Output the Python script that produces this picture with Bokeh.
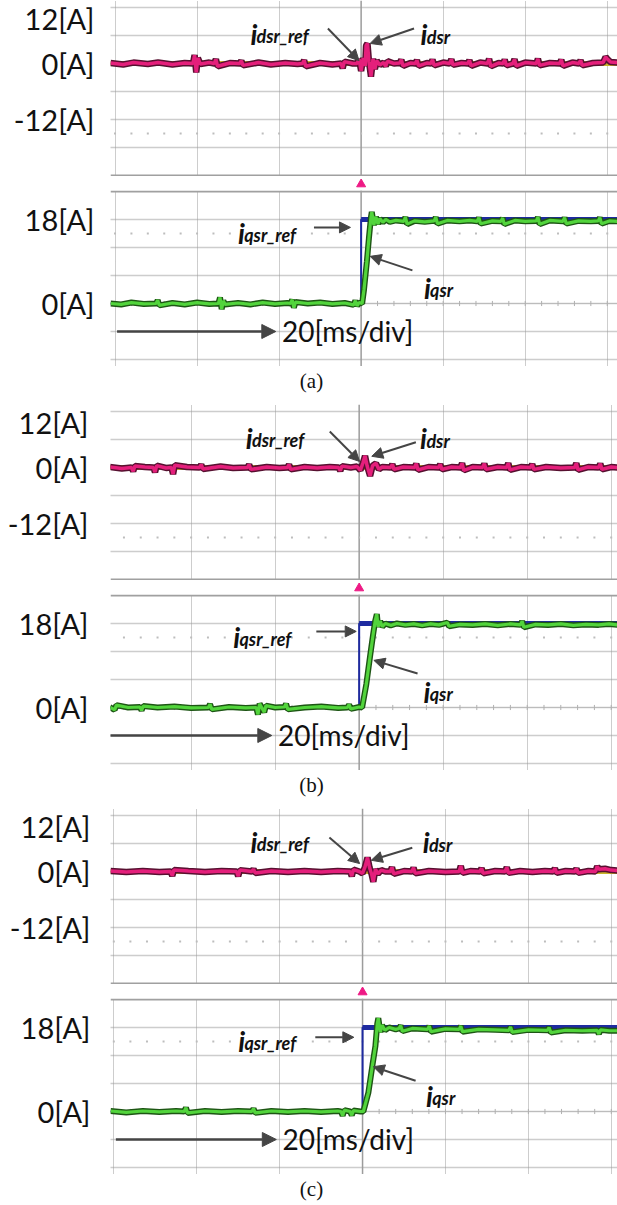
import numpy as np
from bokeh.plotting import figure
from bokeh.models import (FixedTicker, Span, Arrow, NormalHead, Div, Column,
                          Range1d, LinearAxis, Grid)
from bokeh.core.properties import value
from bokeh.embed import file_html
from bokeh.resources import INLINE

# ---------------- values ----------------
panel_names = ["(a)", "(b)", "(c)"]
top_tick_vals = [12, 0, -12]
top_tick_text = ["12[A]", "0[A]", "-12[A]"]
bot_tick_vals = [18, 0]
bot_tick_text = ["18[A]", "0[A]"]
time_label = "20[ms/div]"
trigger_t = 0.0          # ms
iqsr_ref_level = 18.0    # A
idsr_ref_level = 0.0     # A
time_grid = [-60, -40, -20, 20, 40, 60]          # ms, 20 ms/div
top_amp_grid = [-18, -12, -6, 0, 6, 12]          # A, 6 A/div
bot_amp_grid = [-12, -6, 0, 6, 12, 18]
top_border, bot_border = -24, 24
top_dots, bot_dots = -15, 15
sub_ticks = list(range(-60, 62, 4))              # 1/5 div marks

# (time ms, current A) vertices
dsr_a = [(-61.1, 0.1), (-58.0, -0.2), (-55.5, 0.2), (-52.0, -0.1), (-49.5, 0.2), (-46.0, -0.2),
         (-43.0, 0.1), (-41.0, 0.0), (-40.6, 1.8), (-40.2, -1.9), (-39.8, 1.2), (-39.2, -0.1),
         (-37.0, 0.2), (-35.8, 0.0), (-35.4, 0.9), (-35.0, -0.6), (-32.0, 0.1), (-29.6, 0.0),
         (-29.2, 0.6), (-28.8, -0.4), (-25.0, 0.2), (-22.0, -0.2), (-18.5, 0.1), (-15.5, -0.1),
         (-14.3, 0.0), (-13.9, 0.7), (-13.5, -0.6), (-10.0, 0.1), (-7.0, -0.2), (-4.9, 0.0),
         (-4.5, -1.0), (-4.1, 0.4), (-2.0, 0.0), (-1.0, 0.0), (-0.5, 0.9), (0.0, -1.6), (0.5, 1.2),
         (1.0, -0.5), (1.2, 3.8), (1.55, 4.3), (1.9, 0.5), (2.4, -2.8), (2.9, 1.0), (3.35, -1.2),
         (3.8, 0.6), (4.55, -0.3), (5.5, 0.2), (6.0, -0.6), (6.4, 0.5), (8.0, 0.0), (9.4, 0.1),
         (9.8, 0.8), (10.2, -0.5), (12.0, 0.1), (13.2, 0.0), (13.6, 0.7), (14.0, -0.5), (16.0, 0.1),
         (17.0, 0.0), (17.4, 0.8), (17.8, -0.4), (20.0, 0.2), (21.6, 0.0), (22.0, 0.9), (22.4, -0.3),
         (24.5, 0.1), (26.0, 0.0), (26.4, 0.7), (26.8, -0.5), (29.0, 0.2), (30.8, 0.0), (31.2, 1.0),
         (31.6, -0.6), (33.5, 0.1), (34.6, 0.0), (35.0, 0.8), (35.4, -0.4), (37.0, 0.0), (37.4, 0.9),
         (37.8, -0.5), (40.0, 0.2), (42.7, 0.0), (43.1, 1.0), (43.5, -0.4), (46.0, 0.1), (48.4, 0.0),
         (48.8, 0.8), (49.2, -0.5), (51.5, 0.2), (53.1, 0.0), (53.5, 0.7), (53.9, -0.4), (56.5, 0.1),
         (59.0, 0.2), (59.6, 1.4), (60.1, 0.9), (60.8, 0.3), (62.6, 0.2)]
qsr_a = [(-61.1, 0.0), (-58.5, -0.2), (-56.0, 0.2), (-53.0, -0.1), (-50.0, 0.0), (-49.6, 0.7),
         (-49.2, -0.4), (-46.0, 0.1), (-43.0, -0.2), (-40.0, 0.2), (-37.0, -0.1), (-34.8, 0.0),
         (-34.4, 1.3), (-34.0, -1.2), (-33.6, 0.6), (-33.2, -0.2), (-30.0, 0.1), (-27.0, -0.2),
         (-24.0, 0.2), (-21.0, -0.1), (-18.0, 0.1), (-17.2, 0.0), (-16.8, 0.8), (-16.4, -0.9),
         (-16.0, 0.3), (-13.0, 0.0), (-10.0, 0.2), (-7.0, -0.1), (-4.0, 0.1), (-1.8, -0.3),
         (-1.4, 0.6), (-1.0, -0.5), (-0.5, 0.2), (0.25, 0.0), (0.7, 3.0), (1.4, 9.0), (1.9, 14.0),
         (2.4, 18.5), (2.6, 19.6), (3.1, 16.8), (3.6, 18.6), (4.1, 17.0), (4.55, 18.2), (5.3, 17.4),
         (6.0, 18.0), (7.0, 17.5), (8.5, 17.8), (10.4, 17.6), (10.8, 18.5), (11.2, 17.0), (13.0, 17.7),
         (15.5, 17.5), (17.8, 17.7), (18.2, 18.5), (18.6, 17.1), (21.0, 17.8), (24.0, 17.6),
         (26.5, 17.8), (28.3, 17.6), (28.7, 18.4), (29.1, 17.1), (32.0, 17.7), (34.1, 17.6),
         (34.5, 18.3), (34.9, 17.0), (37.5, 17.8), (40.0, 17.6), (42.7, 17.7), (43.1, 18.5),
         (43.5, 17.0), (46.0, 17.8), (49.2, 17.6), (49.6, 18.4), (50.0, 17.1), (53.0, 17.7),
         (56.0, 17.6), (57.8, 17.7), (58.2, 18.4), (58.6, 17.1), (60.5, 17.7), (62.6, 17.6)]
dsr_b = [(-59.4, 0.1), (-56.5, -0.2), (-54.2, 0.0), (-53.8, -0.8), (-53.4, 0.3), (-51.0, 0.1),
         (-49.0, 0.0), (-48.6, -1.0), (-48.2, 0.4), (-46.0, -0.1), (-44.7, 0.0), (-44.3, -1.4),
         (-43.9, 0.5), (-41.0, 0.1), (-38.0, 0.0), (-37.6, 0.6), (-37.2, -0.3), (-33.0, 0.2),
         (-30.0, -0.1), (-26.6, 0.0), (-26.2, 0.6), (-25.8, -0.4), (-22.0, 0.1), (-19.0, -0.1),
         (-17.1, 0.0), (-16.7, 0.6), (-16.3, -0.4), (-13.0, 0.1), (-10.0, -0.1), (-7.0, 0.1),
         (-4.9, 0.0), (-4.5, -0.7), (-4.1, 0.3), (-2.0, 0.0), (-0.5, 0.2), (0.3, -0.6), (0.9, 1.0),
         (1.4, 2.5), (1.9, 0.3), (2.6, -1.8), (3.2, 0.4), (4.0, 0.9), (4.7, -0.4), (5.5, 0.1),
         (7.5, 0.0), (7.9, 0.7), (8.3, -0.4), (10.5, 0.1), (13.2, 0.0), (13.6, 0.8), (14.0, -0.5),
         (16.5, 0.1), (18.9, 0.0), (19.3, 0.7), (19.7, -0.4), (22.0, 0.1), (24.1, 0.0), (24.5, 0.9),
         (24.9, -0.6), (27.0, 0.1), (29.4, 0.0), (29.8, 0.8), (30.2, -0.4), (33.0, 0.1), (35.1, 0.0),
         (35.5, 0.9), (35.9, -0.5), (38.5, 0.1), (40.8, 0.0), (41.2, 0.7), (41.6, -0.4), (44.5, 0.1),
         (48.0, -0.1), (51.3, 0.0), (51.7, 0.9), (52.1, -0.5), (54.5, 0.1), (57.0, 0.0), (57.4, 0.8),
         (57.8, -0.4), (60.0, 0.1), (61.6, 0.0)]
qsr_b = [(-59.4, 0.1), (-58.2, -0.5), (-57.8, 0.5), (-55.0, 0.0), (-52.2, 0.1), (-51.8, -0.6),
         (-51.4, 0.3), (-48.0, 0.0), (-44.0, 0.2), (-40.0, -0.1), (-35.9, 0.0), (-35.5, 0.7),
         (-35.1, -0.4), (-31.0, 0.1), (-27.0, -0.1), (-24.5, 0.0), (-24.1, -1.5), (-23.7, 0.8),
         (-22.6, -1.0), (-22.2, 0.4), (-20.0, 0.0), (-17.8, 0.1), (-17.4, 0.8), (-17.0, -0.4),
         (-13.0, 0.0), (-9.0, 0.2), (-5.0, -0.1), (-2.8, 0.0), (-2.4, 0.6), (-2.0, -0.3), (0.0, 0.1),
         (0.7, 0.0), (1.7, 5.0), (2.6, 11.0), (3.3, 15.5), (3.8, 18.5), (4.2, 20.0), (4.5, 17.3),
         (5.0, 18.5), (5.5, 17.3), (6.2, 18.0), (7.5, 17.6), (9.0, 18.0), (11.0, 17.7), (13.0, 17.9),
         (15.0, 17.6), (17.0, 17.9), (19.0, 17.7), (21.0, 18.2), (21.4, 17.4), (24.0, 17.8),
         (27.0, 17.7), (30.0, 17.9), (33.0, 17.6), (36.0, 17.9), (38.4, 17.7), (38.8, 18.5),
         (39.2, 17.2), (42.0, 17.8), (45.0, 17.7), (48.0, 17.9), (51.0, 17.6), (54.0, 17.8),
         (57.0, 17.7), (59.5, 17.9), (61.6, 17.7)]
dsr_c = [(-60.8, 0.1), (-57.0, -0.1), (-53.0, 0.1), (-49.0, -0.1), (-46.3, 0.0), (-45.9, -0.9),
         (-45.5, 0.3), (-42.0, 0.1), (-38.0, -0.1), (-34.0, 0.1), (-30.4, 0.0), (-30.0, -1.0),
         (-29.6, 0.3), (-26.7, 0.0), (-26.3, 0.5), (-25.9, -0.3), (-22.0, 0.1), (-18.0, -0.1),
         (-14.0, 0.1), (-10.0, -0.1), (-6.0, 0.1), (-3.0, 0.0), (-2.6, -1.0), (-2.2, 0.4),
         (-0.8, 0.0), (0.0, -0.4), (0.6, 1.0), (1.2, 3.0), (1.7, 0.8), (2.2, -0.6), (2.6, -2.2),
         (3.1, 0.5), (3.7, -0.5), (4.5, 0.3), (5.5, 0.0), (6.7, 0.0), (7.1, 0.9), (7.5, -0.5),
         (10.0, 0.1), (11.9, 0.0), (12.3, 0.8), (12.7, -0.4), (16.0, 0.1), (20.0, -0.1), (23.3, 0.0),
         (23.7, 1.2), (24.1, -0.3), (26.0, 0.1), (28.3, 0.0), (28.7, 0.7), (29.1, -0.4), (32.0, 0.1),
         (34.4, 0.0), (34.8, 0.9), (35.2, -0.3), (38.0, 0.1), (41.0, -0.1), (44.0, 0.1), (46.0, 0.0),
         (46.4, 0.7), (46.8, -0.3), (49.0, 0.1), (51.2, 0.0), (51.6, 0.6), (52.0, -0.3), (54.5, 0.1),
         (56.2, 0.0), (56.6, 1.1), (57.0, 0.5), (58.5, 0.6), (60.0, 0.3), (61.6, 0.2)]
qsr_c = [(-60.8, 0.1), (-57.0, -0.2), (-53.0, 0.1), (-49.0, -0.1), (-45.0, 0.1), (-43.0, 0.0),
         (-42.6, 0.8), (-42.2, -0.3), (-38.0, 0.1), (-34.0, -0.1), (-30.0, 0.1), (-26.7, 0.0),
         (-26.3, 0.6), (-25.9, -0.3), (-22.0, 0.1), (-18.0, -0.1), (-14.0, 0.1), (-10.0, -0.1),
         (-6.0, 0.1), (-5.2, 0.0), (-4.8, -0.9), (-4.4, 0.3), (-3.0, 0.0), (-2.6, -0.8), (-2.2, 0.2),
         (-0.5, 0.0), (0.2, 0.0), (1.4, 4.0), (2.4, 10.0), (3.1, 14.0), (3.55, 18.8), (3.8, 20.0),
         (4.3, 17.0), (4.7, 18.5), (5.4, 17.4), (6.4, 18.0), (8.0, 17.6), (8.8, 17.8), (9.2, 18.4),
         (9.6, 17.2), (12.0, 17.8), (15.7, 17.6), (16.1, 18.3), (16.5, 17.1), (20.0, 17.7),
         (23.3, 17.6), (23.7, 18.3), (24.1, 17.1), (28.0, 17.6), (32.0, 17.5), (35.3, 17.4),
         (35.7, 18.1), (36.1, 17.0), (40.0, 17.5), (44.6, 17.4), (45.0, 18.0), (45.4, 16.9),
         (49.0, 17.4), (53.0, 17.3), (56.6, 17.4), (57.0, 16.6), (57.4, 17.5), (59.5, 17.3),
         (61.6, 17.3)]

dsr_traces = [dsr_a, dsr_b, dsr_c]
qsr_traces = [qsr_a, qsr_b, qsr_c]

# ---------------- layout / style ----------------
W = 617
TOP_H, STRIP_H, BOT_H = 176, 14, 176
CAP_H = [38, 38, 31]
lefts = [101, 110, 100]
x_ranges = [(-61.1, 62.5), (-59.2, 61.5), (-60.8, 61.5)]
standoffs = [16, 22, 20]
top_yr = (-24.21, 13.5)
bot_yr = (-13.5, 24.21)

arrows = [
    dict(r=(-8.1, 7.5, -0.5, 0.6), d=(12.9, 7.5, 2.2, 4.3), qr=(-11.5, 16.3, -2.6, 16.3), q=(12.5, 7.1, 2.2, 10.1)),
    dict(r=(-7.0, 7.7, 0.1, 1.3), d=(13.5, 5.4, 3.0, 2.4), qr=(-10.2, 16.3, -0.7, 16.3), q=(13.9, 7.3, 3.5, 10.1)),
    dict(r=(-8.0, 7.3, -0.7, 1.7), d=(12.0, 5.1, 2.1, 2.4), qr=(-11.4, 15.9, -2.1, 15.9), q=(12.8, 6.6, 2.6, 9.6)),
]

PINK, PINK_DK = "#e41f7b", "#571030"
GREEN, GREEN_DK = "#52d43c", "#1d5514"
NAVY = "#1e2aa0"
OLIVE = "#c8b42a"
GRID = "#9a9a9a"
ARROW = "#454545"
FONT = "Lato"


def base_fig(height, xr, yr, left):
    p = figure(width=W, height=height, x_range=Range1d(*xr), y_range=Range1d(*yr),
               x_axis_type=None, y_axis_type=None, output_backend="svg",
               toolbar_location=None, min_border_left=left, min_border_right=0,
               min_border_top=0, min_border_bottom=0)
    p.outline_line_color = None
    p.background_fill_color = "white"
    p.border_fill_color = "white"
    return p


def graticule(p, amp_grid, border, dots, tick_vals, tick_text, standoff):
    p.add_layout(Grid(dimension=0, ticker=FixedTicker(ticks=time_grid),
                      grid_line_color=GRID, grid_line_dash="1 1", grid_line_width=1))
    p.add_layout(Grid(dimension=1, ticker=FixedTicker(ticks=amp_grid),
                      grid_line_color=GRID, grid_line_dash="1 1", grid_line_width=1.3))
    p.add_layout(Span(location=trigger_t, dimension="height", line_color="#9c9c9c",
                      line_width=1.5, level="underlay"))
    p.add_layout(Span(location=border, dimension="width", line_color="#a0a0a0",
                      line_width=2, level="underlay"))
    p.add_layout(Span(location=0, dimension="width", line_color="#bcbcbc",
                      line_width=1, level="underlay"))
    p.segment(x0=sub_ticks, y0=[-0.55] * len(sub_ticks), x1=sub_ticks, y1=[0.55] * len(sub_ticks),
              line_color="#b0b0b0", line_width=1)
    p.scatter(x=sub_ticks, y=[dots] * len(sub_ticks), marker="square", size=2,
              fill_color="#bdbdbd", line_color=None)
    ax = LinearAxis(ticker=FixedTicker(ticks=tick_vals),
                    major_label_overrides=dict(zip(tick_vals, tick_text)),
                    axis_line_color=None, major_tick_line_color=None,
                    minor_tick_line_color=None, major_tick_in=0, major_tick_out=0,
                    major_label_standoff=standoff, major_label_text_font=FONT,
                    major_label_text_font_size="29px", major_label_text_color="#111111")
    p.add_layout(ax, "left")


def add_arrow(p, xy, size=11, width=2):
    p.add_layout(Arrow(end=NormalHead(size=size, fill_color=ARROW, line_color=ARROW, line_width=1),
                       x_start=xy[0], y_start=xy[1], x_end=xy[2], y_end=xy[3],
                       line_color=ARROW, line_width=width))


def add_name(p, x, y, sub, dx=1.5, dy=0.5):
    p.text(x=[x], y=[y], text=["i"], text_font=value(FONT), text_font_style="bold italic",
           text_font_size="28px", text_color="#111111", text_baseline="alphabetic", text_align="left")
    p.text(x=[x + dx], y=[y - dy], text=[sub], text_font=value(FONT), text_font_style="bold italic",
           text_font_size="18px", text_color="#111111", text_baseline="alphabetic", text_align="left")


children = []
for k in range(3):
    xr, left = x_ranges[k], lefts[k]
    # ---- d-axis current ----
    pt = base_fig(TOP_H, xr, top_yr, left)
    graticule(pt, top_amp_grid, top_border, top_dots, top_tick_vals, top_tick_text, standoffs[k])
    td, vd = map(list, zip(*dsr_traces[k]))
    pt.line([td[0], td[-1]], [idsr_ref_level, idsr_ref_level], line_color=OLIVE, line_width=5)
    pt.line(td, vd, line_color=PINK_DK, line_width=6.5)
    pt.line(td, vd, line_color=PINK, line_width=3.5)
    add_name(pt, -27.0, 6.4, "dsr_ref")
    add_name(pt, 14.5, 6.4, "dsr", dy=0.7)
    add_arrow(pt, arrows[k]["r"])
    add_arrow(pt, arrows[k]["d"])

    # ---- trigger strip ----
    ps = base_fig(STRIP_H, xr, (0, 1), left)
    ps.scatter(x=[trigger_t], y=[0.45], marker="triangle", size=9, fill_color="#ee1a85",
               line_color="#ee1a85")

    # ---- q-axis current ----
    pb = base_fig(BOT_H, xr, bot_yr, left)
    graticule(pb, bot_amp_grid, bot_border, bot_dots, bot_tick_vals, bot_tick_text, standoffs[k])
    tq, vq = map(list, zip(*qsr_traces[k]))
    ref_t = [tq[0], trigger_t, trigger_t, tq[-1]]
    ref_v = [0.0, 0.0, iqsr_ref_level, iqsr_ref_level]
    pb.line(ref_t, ref_v, line_color=NAVY, line_width=2)
    pb.line(ref_t[2:], ref_v[2:], line_color=NAVY, line_width=5)
    pb.line(tq, vq, line_color=GREEN_DK, line_width=6)
    pb.line(tq, vq, line_color=GREEN, line_width=3.2)
    add_name(pb, -30.0, 15.2, "qsr_ref")
    add_name(pb, 15.3, 3.4, "qsr")
    add_arrow(pb, arrows[k]["qr"])
    add_arrow(pb, arrows[k]["q"])
    add_arrow(pb, (-59.5, -6, -20.8, -6), size=14, width=2.5)
    pb.text(x=[-19.3], y=[-6], text=[time_label], text_font=value(FONT), text_font_size="28px",
            text_color="#111111", text_baseline="middle", text_align="left")

    cap = Div(text=panel_names[k], width=W, height=CAP_H[k], margin=0,
              styles={"text-align": "center", "font-family": "Liberation Serif",
                      "font-size": "21px", "line-height": "30px", "padding-left": "6px",
                      "color": "#111111"})
    children += [pt, ps, pb, cap]

layout = Column(children=children, spacing=0)
open("out.html", "w").write(file_html(layout, INLINE))
